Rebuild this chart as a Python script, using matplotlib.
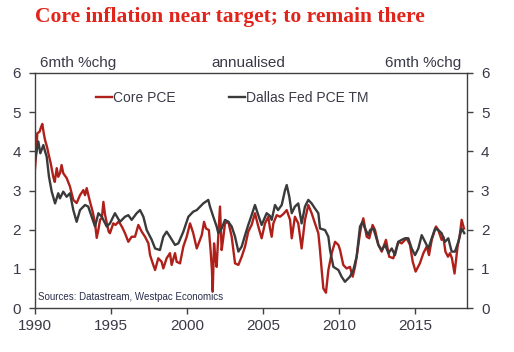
import numpy as np
import matplotlib
matplotlib.use('Agg')
from matplotlib import pyplot as plt

plt.rcParams['font.family'] = ['Liberation Sans', 'DejaVu Sans']

# data (year, 6mth %chg annualised)
core_x = [1990.0, 1990.1, 1990.15, 1990.3, 1990.4, 1990.48, 1990.58, 1990.66, 1990.8, 1990.88,
          1991.03, 1991.2, 1991.3, 1991.43, 1991.53, 1991.65, 1991.75, 1991.86, 1992.08, 1992.3,
          1992.52, 1992.74, 1992.96, 1993.18, 1993.29, 1993.4, 1993.62, 1993.8, 1993.95, 1994.06,
          1994.17, 1994.28, 1994.4, 1994.5, 1994.6, 1994.72, 1994.85, 1994.93, 1995.15, 1995.3,
          1995.48, 1995.59, 1995.75, 1995.92, 1996.14, 1996.36, 1996.58, 1996.8, 1997.02, 1997.24,
          1997.46, 1997.57, 1997.78, 1997.9, 1998.11, 1998.33, 1998.44, 1998.66, 1998.88, 1998.99,
          1999.21, 1999.32, 1999.54, 1999.76, 1999.98, 2000.2, 2000.41, 2000.64, 2000.97, 2001.12,
          2001.25, 2001.44, 2001.55, 2001.64, 2001.69, 2001.78, 2001.86, 2001.95, 2002.06, 2002.17,
          2002.28, 2002.39, 2002.5, 2002.72, 2002.94, 2003.16, 2003.38, 2003.6, 2003.82, 2004.03,
          2004.25, 2004.47, 2004.69, 2004.91, 2005.13, 2005.35, 2005.46, 2005.57, 2005.68, 2005.9,
          2006.12, 2006.34, 2006.56, 2006.78, 2006.89, 2007.1, 2007.32, 2007.54, 2007.76, 2007.98,
          2008.2, 2008.42, 2008.64, 2008.75, 2008.86, 2008.97, 2009.14, 2009.3, 2009.52, 2009.74,
          2009.96, 2010.07, 2010.28, 2010.5, 2010.72, 2010.9, 2011.05, 2011.16, 2011.38, 2011.48,
          2011.6, 2011.82, 2011.99, 2012.21, 2012.37, 2012.59, 2012.81, 2013.09, 2013.3, 2013.57,
          2013.9, 2014.12, 2014.45, 2014.67, 2014.85, 2015.04, 2015.32, 2015.55, 2015.77, 2015.92,
          2016.1, 2016.38, 2016.53, 2016.75, 2016.86, 2017.0, 2017.17, 2017.3, 2017.43, 2017.6,
          2017.8, 2017.93, 2018.07, 2018.22]
core_y = [3.55, 4.05, 4.46, 4.5, 4.62, 4.70, 4.45, 4.29, 4.1, 3.95,
          3.70, 3.35, 3.22, 3.57, 3.35, 3.45, 3.65, 3.44, 3.32, 3.10,
          2.76, 2.68, 2.88, 3.01, 2.88, 3.06, 2.71, 2.45, 2.17, 1.79,
          2.0, 2.25, 2.3, 2.71, 2.4, 2.17, 1.95, 1.91, 2.16, 2.12,
          2.20, 2.16, 2.05, 1.91, 1.69, 1.82, 1.82, 2.12, 1.95, 1.82,
          1.65, 1.35, 1.10, 0.97, 1.27, 1.18, 1.01, 1.27, 1.40, 1.10,
          1.40, 1.18, 1.14, 1.57, 1.82, 2.16, 1.91, 1.52, 1.86, 2.20,
          2.03, 1.99, 1.48, 0.97, 0.42, 1.65, 1.3, 1.05, 1.86, 2.59,
          1.48, 1.8, 2.16, 2.20, 1.82, 1.14, 1.10, 1.31, 1.57, 1.95,
          2.12, 2.42, 2.08, 1.78, 2.16, 2.33, 2.03, 1.82, 2.16, 2.37,
          2.33, 2.4, 2.50, 2.25, 1.78, 2.33, 2.16, 1.52, 2.25, 2.63,
          2.42, 2.16, 1.91, 1.48, 0.97, 0.50, 0.39, 0.97, 1.40, 1.69,
          1.61, 1.48, 1.10, 1.01, 1.05, 0.80, 1.05, 1.31, 1.91, 2.12,
          2.29, 1.82, 1.78, 2.12, 1.99, 1.61, 1.44, 1.74, 1.31, 1.27,
          1.69, 1.65, 1.78, 1.61, 1.18, 0.93, 1.14, 1.40, 1.57, 1.35,
          1.74, 2.08, 1.99, 1.74, 1.82, 1.44, 1.31, 1.40, 1.27, 0.88,
          1.57, 1.82, 2.25, 2.03]

dallas_x = [1990.0, 1990.22, 1990.35, 1990.55, 1990.66, 1990.77, 1990.92, 1991.1, 1991.32, 1991.53,
            1991.64, 1991.86, 1992.08, 1992.3, 1992.52, 1992.74, 1992.96, 1993.29, 1993.5, 1993.73,
            1993.95, 1994.17, 1994.39, 1994.72, 1994.93, 1995.26, 1995.59, 1995.92, 1996.14, 1996.36,
            1996.69, 1996.91, 1997.13, 1997.35, 1997.68, 1997.9, 1998.22, 1998.44, 1998.66, 1998.88,
            1999.21, 1999.43, 1999.76, 2000.09, 2000.41, 2000.64, 2001.07, 2001.4, 2001.51, 2001.73,
            2001.95, 2002.06, 2002.28, 2002.5, 2002.72, 2002.94, 2003.16, 2003.38, 2003.6, 2003.82,
            2004.03, 2004.25, 2004.47, 2004.69, 2004.91, 2005.24, 2005.46, 2005.57, 2005.79, 2005.99,
            2006.23, 2006.45, 2006.56, 2006.73, 2006.89, 2007.1, 2007.32, 2007.54, 2007.76, 2007.98,
            2008.2, 2008.42, 2008.64, 2008.75, 2009.08, 2009.3, 2009.41, 2009.63, 2009.96, 2010.17,
            2010.39, 2010.72, 2010.94, 2011.16, 2011.38, 2011.55, 2011.71, 2011.93, 2012.04, 2012.26,
            2012.4, 2012.59, 2012.81, 2013.03, 2013.25, 2013.47, 2013.68, 2013.9, 2014.12, 2014.34,
            2014.56, 2014.78, 2015.0, 2015.22, 2015.44, 2015.66, 2015.88, 2016.1, 2016.32, 2016.53,
            2016.75, 2016.97, 2017.19, 2017.41, 2017.63, 2017.85, 2018.07, 2018.24]
dallas_y = [3.78, 4.25, 3.95, 4.16, 4.0, 3.86, 3.35, 2.97, 2.67, 2.93,
            2.80, 2.97, 2.84, 2.93, 2.50, 2.20, 2.50, 2.63, 2.59, 2.33,
            2.08, 2.42, 2.33, 2.08, 2.16, 2.42, 2.20, 2.33, 2.37, 2.25,
            2.42, 2.50, 2.33, 1.99, 1.74, 1.52, 1.48, 1.82, 1.95, 1.82,
            1.61, 1.65, 1.95, 2.33, 2.46, 2.50, 2.67, 2.76, 2.59, 2.33,
            2.08, 1.91, 2.03, 2.25, 2.20, 2.08, 1.82, 1.44, 1.57, 1.86,
            2.12, 2.37, 2.63, 2.37, 2.12, 2.42, 2.35, 2.25, 2.63, 2.50,
            2.63, 3.01, 3.14, 2.84, 2.42, 2.59, 2.67, 2.16, 2.59, 2.76,
            2.67, 2.54, 2.42, 2.03, 1.99, 1.82, 1.48, 1.05, 0.97, 0.80,
            0.67, 0.80, 0.97, 1.31, 2.08, 2.20, 2.03, 1.86, 1.99, 2.03,
            1.86, 1.61, 1.48, 1.61, 1.40, 1.52, 1.35, 1.69, 1.74, 1.78,
            1.78, 1.52, 1.35, 1.52, 1.86, 1.69, 1.52, 1.78, 2.03, 1.99,
            1.91, 1.69, 1.78, 1.44, 1.44, 1.69, 2.03, 1.91]

series_names = ['Core PCE', 'Dallas Fed PCE TM']
x_ticks = [1990, 1995, 2000, 2005, 2010, 2015]
y_ticks = [0, 1, 2, 3, 4, 5, 6]

txt = '#3a3a48'
axc = '#404040'

fig = plt.figure(figsize=(5.14, 3.52), dpi=100)
W, H = 514, 352
ax = fig.add_axes([35 / W, 1 - 308 / H, (467 - 35) / W, (308 - 73) / H])

ax.plot(core_x, core_y, color='#b0201a', lw=1.7, label=series_names[0])
ax.plot(dallas_x, dallas_y, color='#3a3a3a', lw=1.7, label=series_names[1])

ax.set_xlim(1990, 2018.42)
ax.set_ylim(0, 6)
ax.set_xticks(x_ticks)
ax.set_yticks(y_ticks)
for s in ax.spines.values():
    s.set_color(axc)
    s.set_linewidth(1.0)
ax.tick_params(axis='both', direction='out', length=4, width=1, color=axc,
               labelsize=11, labelcolor=txt)
ax.tick_params(axis='y', pad=6, left=True, right=True, labelleft=True, labelright=True)
ax.tick_params(axis='x', pad=4)

leg = ax.legend(loc='center left', bbox_to_anchor=(96 / W, 1 - 98 / H),
                bbox_transform=fig.transFigure, ncol=2, frameon=False,
                fontsize=10, handlelength=1.15, handletextpad=0.1,
                columnspacing=3.8, borderpad=0, borderaxespad=0)
for t in leg.get_texts():
    t.set_color(txt)

ax.text(0.006, 0.025, 'Sources: Datastream, Westpac Economics', transform=ax.transAxes,
        fontsize=7, color='#2a2f4a', va='bottom', ha='left')

fig.text(40 / W, 1 - 63 / H, '6mth %chg', fontsize=11, color=txt, va='center', ha='left')
fig.text(248 / W, 1 - 63 / H, 'annualised', fontsize=11, color=txt, va='center', ha='center')
fig.text(461 / W, 1 - 63 / H, '6mth %chg', fontsize=11, color=txt, va='center', ha='right')

fig.text(35 / W, 1 - 17 / H, 'Core inflation near target; to remain there',
         fontsize=15.5, fontweight='bold', family='Liberation Serif', color='#e2231a',
         va='center', ha='left')

fig.savefig('out.png', dpi=100)
